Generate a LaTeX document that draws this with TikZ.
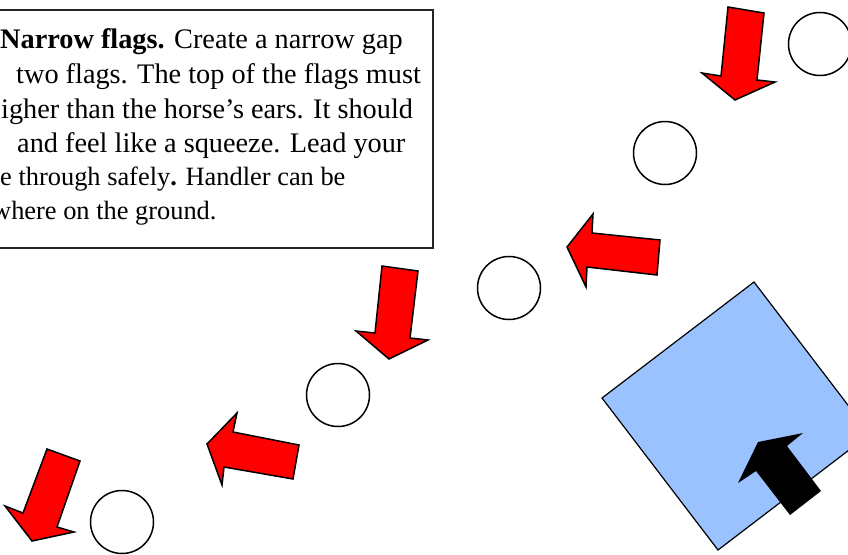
\documentclass[tikz,border=0pt]{standalone}
\usepackage{fontspec}
\setmainfont{Liberation Serif}
\usetikzlibrary{shapes.geometric}
\definecolor{sqblue}{RGB}{153,194,255}
\begin{document}
\begin{tikzpicture}[x=1pt,y=-1pt,
  flag/.style={draw=black,line width=1.5pt,ellipse,minimum width=63pt,minimum height=63pt,inner sep=0pt},
  redarrow/.style={fill=red,draw=black,line width=1.5pt,line join=miter},
  txt/.style={anchor=base west,inner sep=0pt,font=\fontsize{28.3}{34}\selectfont},
  txtsm/.style={anchor=base west,inner sep=0pt,font=\fontsize{26.4}{34}\selectfont},
  boxline/.style={draw=black!85,line width=1.5pt}]
\useasboundingbox (0,0) rectangle (848,554);
\clip (0,0) rectangle (848,554);
% text box
\draw[boxline] (-20,10) rectangle (433,248);
\node[txt] (l1) at (0,48) {\textbf{Narrow flags.} Create a narrow gap};
\node[txt] (l2) at (16,83) {two flags. The top of the flags must};
\node[txt] (l3) at (1,118) {igher than the horse’s ears. It should};
\node[txt] (l4) at (17,152) {and feel like a squeeze. Lead your};
\node[txtsm] (l5) at (0,185) {e through safely\textbf{.} Handler can be};
\node[txtsm] (l6) at (-8,219) {where on the ground.};
% flags (circles)
\node[flag] (c1) at (820,44) {};
\node[flag] (c2) at (665,153) {};
\node[flag] (c3) at (509,288) {};
\node[flag] (c4) at (338,395) {};
\node[flag] (c5) at (122,522) {};
% red arrows
\draw[redarrow] (728,7) -- (764,13) -- (757,80) -- (775,82) -- (735,100) -- (702,73) -- (721,76) -- cycle;
\draw[redarrow] (567,247) -- (593,214) -- (592,233) -- (660,240) -- (657,275) -- (587,267) -- (586,287) -- cycle;
\draw[redarrow] (382,266) -- (418,271) -- (410,338) -- (428,340) -- (389,359) -- (356,331) -- (375,333) -- cycle;
\draw[redarrow] (207,444) -- (237,413) -- (233,432) -- (299,445) -- (293,479) -- (224,467) -- (222,485) -- cycle;
\draw[redarrow] (47,449) -- (80,461) -- (57,527) -- (74,532) -- (32,541) -- (5,506) -- (23,513) -- cycle;
% blue square
\draw[fill=sqblue,draw=black,line width=1.2pt] (602,398) -- (754,282) -- (870,434) -- (718,550) -- cycle;
% black arrow
\fill[black] (758,442) -- (803,433) -- (787,446) -- (821,491) -- (790,515) -- (756,471) -- (738,483) -- cycle;
\end{tikzpicture}
\end{document}
